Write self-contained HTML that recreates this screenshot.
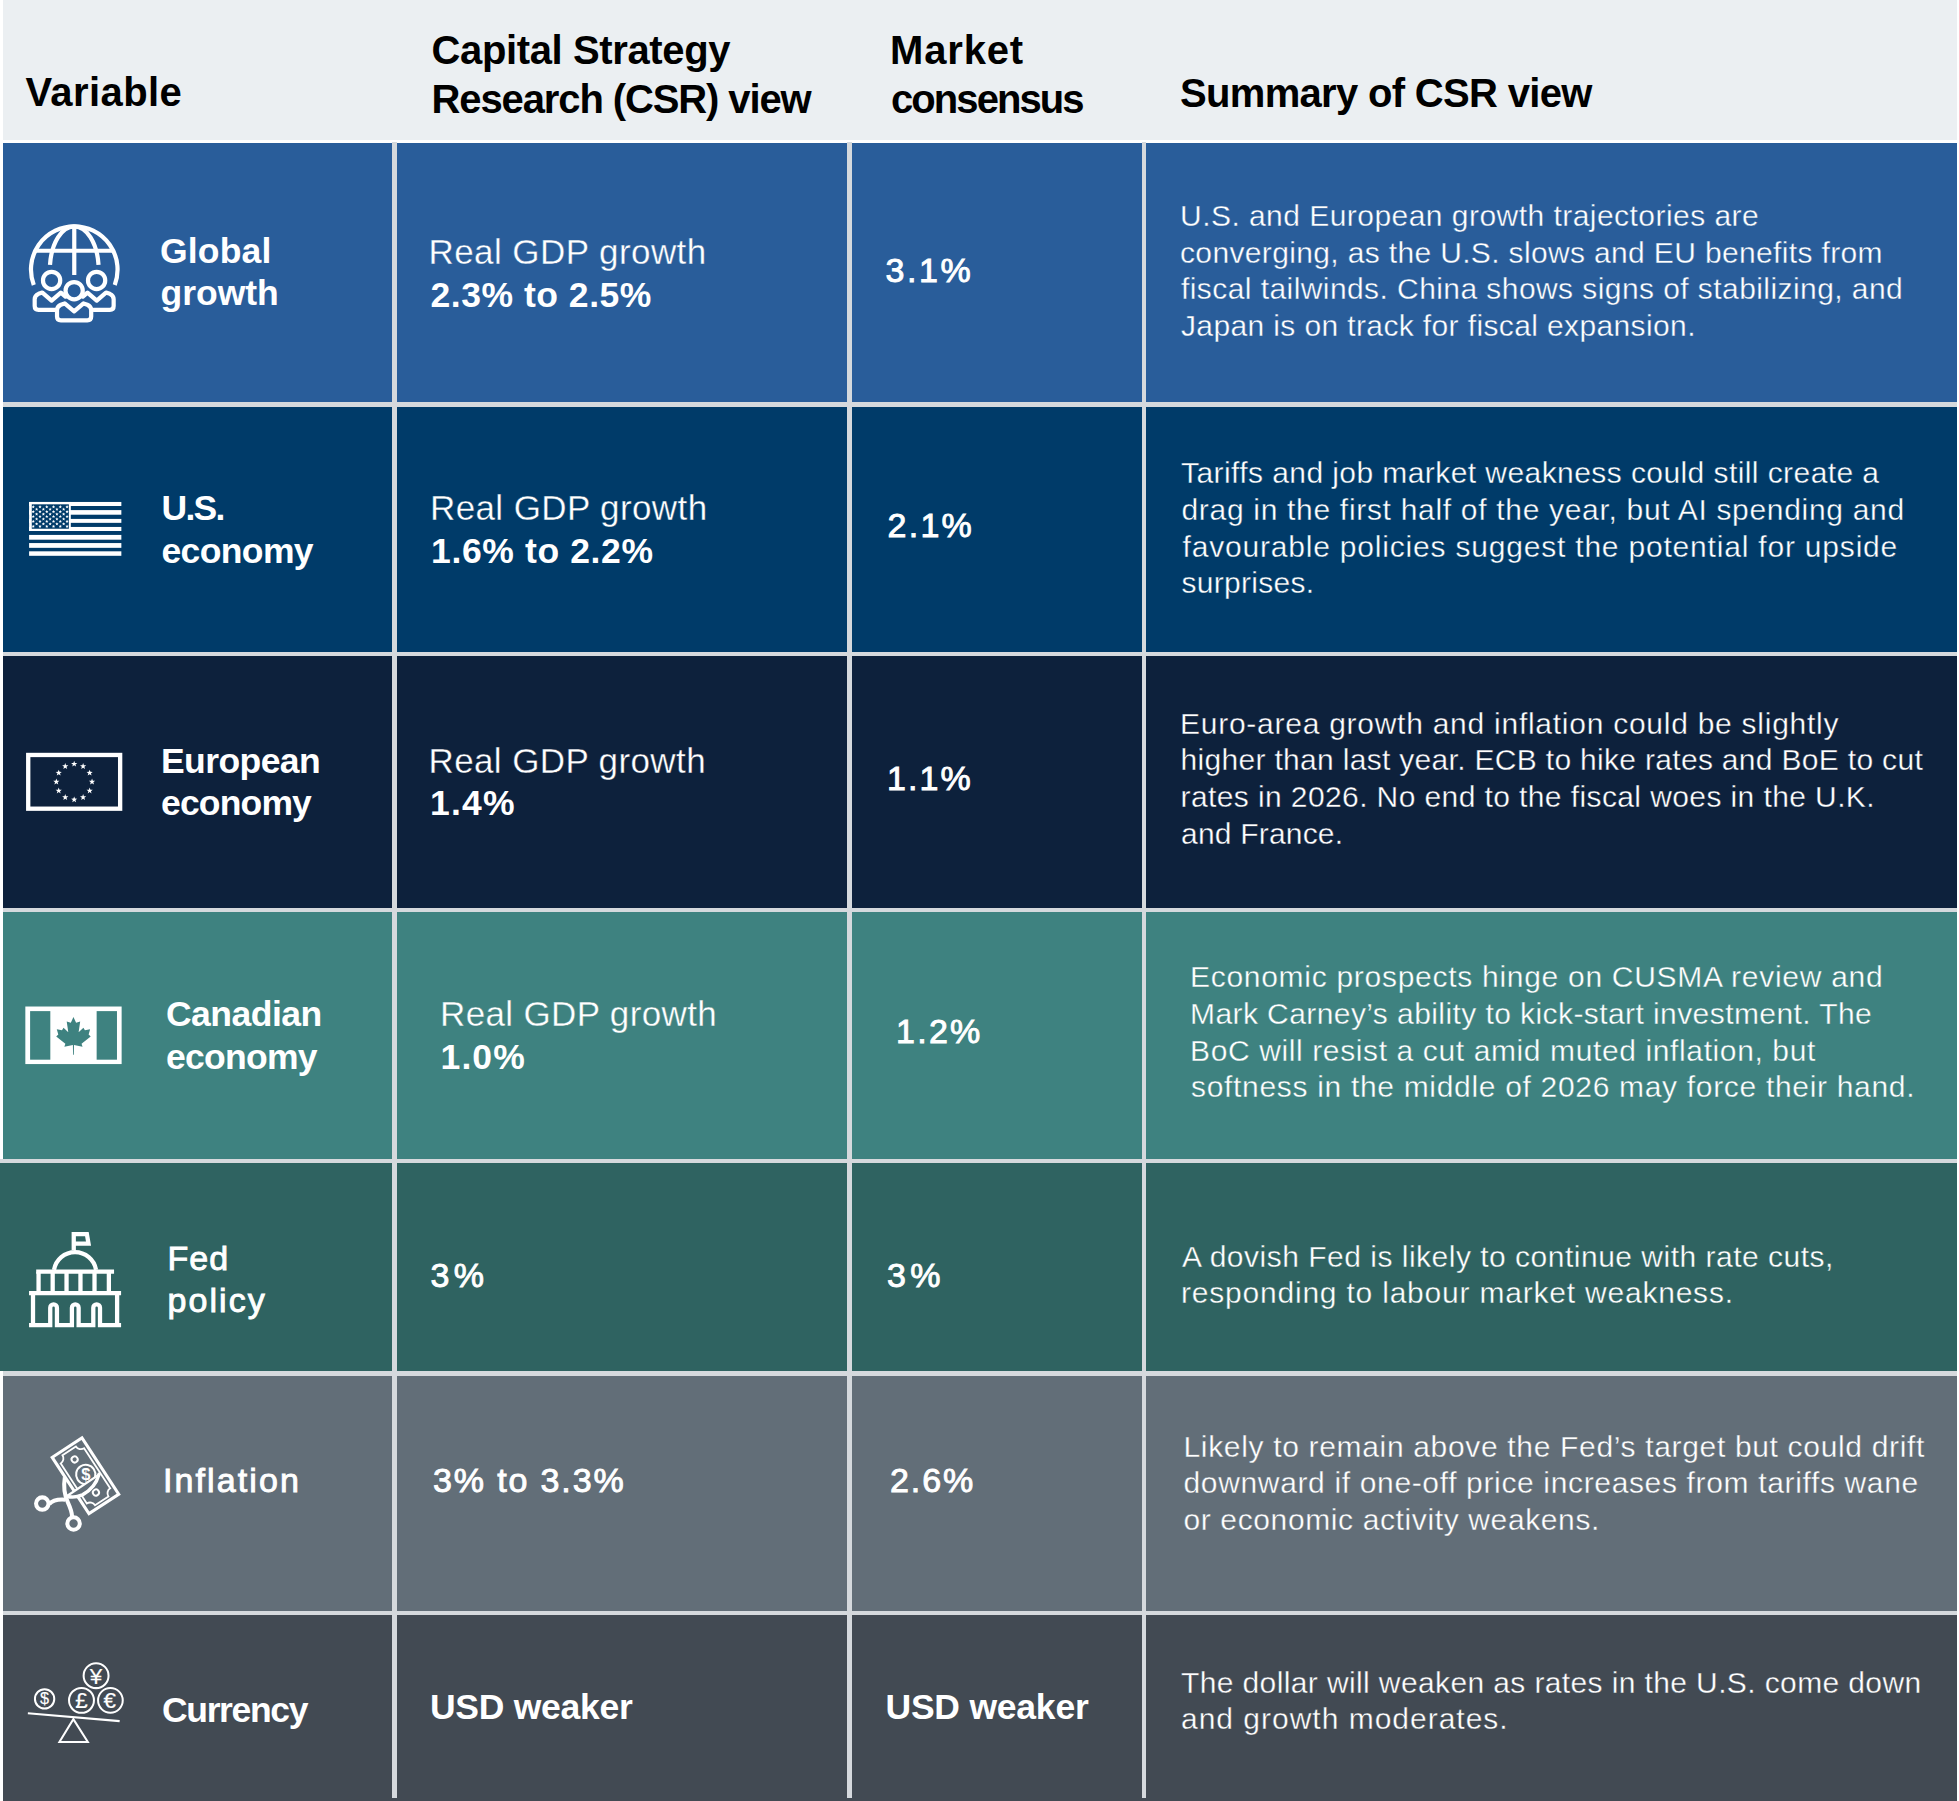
<!DOCTYPE html><html lang="en"><head><meta charset="utf-8"><title>CSR outlook table</title><style>

html,body{margin:0;padding:0;background:#fff;}
body{width:1959px;height:1801px;position:relative;overflow:hidden;font-family:"Liberation Sans",sans-serif;}
.bx{position:absolute;}
.t{position:absolute;white-space:pre;line-height:1;margin:0;padding:0;transform-origin:0 0;}
.h{color:#000;font-weight:700;}
.b{color:#fff;font-weight:700;}
.r{color:#fff;font-weight:400;}
.m{color:#fff;font-weight:400;-webkit-text-stroke:0.9px #fff;}
svg{position:absolute;overflow:visible;}

</style></head><body>
<div class="bx" style="left:2.5px;top:0;width:1954.5px;height:140px;background:#ebeff2"></div>
<div class="bx" style="left:2.5px;top:142.5px;width:1954.5px;height:259.5px;background:#295d9a"></div>
<div class="bx" style="left:2.5px;top:406.5px;width:1954.5px;height:245.0px;background:#003b69"></div>
<div class="bx" style="left:2.5px;top:656px;width:1954.5px;height:252px;background:#0d213c"></div>
<div class="bx" style="left:2.5px;top:912px;width:1954.5px;height:247px;background:#3e8280"></div>
<div class="bx" style="left:0px;top:1163px;width:1957px;height:208px;background:#2f6361"></div>
<div class="bx" style="left:2.5px;top:1375.5px;width:1954.5px;height:235.5px;background:#626e78"></div>
<div class="bx" style="left:2.5px;top:1615px;width:1954.5px;height:186px;background:#424a53"></div>
<div class="bx" style="left:2.5px;top:402px;width:1954.5px;height:4.5px;background:#d5d9dd"></div>
<div class="bx" style="left:2.5px;top:651.5px;width:1954.5px;height:4.5px;background:#d5d9dd"></div>
<div class="bx" style="left:2.5px;top:908px;width:1954.5px;height:4px;background:#d5d9dd"></div>
<div class="bx" style="left:0px;top:1159px;width:1957px;height:4px;background:#d5d9dd"></div>
<div class="bx" style="left:2.5px;top:1371px;width:1954.5px;height:4.5px;background:#d5d9dd"></div>
<div class="bx" style="left:2.5px;top:1611px;width:1954.5px;height:4px;background:#d5d9dd"></div>
<div class="bx" style="left:392.2px;top:141.5px;width:4.600000000000023px;height:1656.5px;background:#d5d9dd"></div>
<div class="bx" style="left:847px;top:141.5px;width:4.7000000000000455px;height:1656.5px;background:#d5d9dd"></div>
<div class="bx" style="left:1141.8px;top:141.5px;width:4.2999999999999545px;height:1656.5px;background:#d5d9dd"></div>
<svg width="1959" height="1801" viewBox="0 0 1959 1801" style="left:0;top:0">
<g transform="translate(20,215) scale(0.063841)" fill="none" stroke="#fff" stroke-width="66" stroke-linejoin="round">
<path d="M216 1095 A678 678 0 1 1 1484 1095"/>
<path d="M850 177 V940"/>
<path d="M240 560 H1460"/>
<path d="M850 177 A382 678 0 0 0 470 780"/>
<path d="M850 177 A382 678 0 0 1 1230 780"/>
<circle cx="495" cy="1025" r="135"/>
<circle cx="1200" cy="1025" r="135"/>
<circle cx="848" cy="1185" r="135"/>
<path stroke-linecap="round" d="M712 1278 L640 1215 L495 1340 L350 1215 L290 1235 Q230 1260 230 1320 V1425 Q230 1485 290 1485 H545"/>
<path stroke-linecap="round" d="M985 1278 L1057 1215 L1202 1340 L1347 1215 L1407 1235 Q1467 1260 1467 1320 V1425 Q1467 1485 1407 1485 H1152"/>
<path d="M700 1385 L848 1510 L995 1385 L1055 1405 Q1115 1430 1115 1490 V1590 Q1115 1650 1055 1650 H640 Q580 1650 580 1590 V1490 Q580 1430 640 1405 Z"/>
</g>
<g transform="translate(20,490) scale(0.056151)">
<rect x="162" y="213" width="1643" height="72" fill="#fff"/>
<rect x="162" y="358" width="1643" height="82" fill="#fff"/>
<rect x="162" y="515" width="1643" height="70" fill="#fff"/>
<rect x="162" y="658" width="1643" height="72" fill="#fff"/>
<rect x="162" y="800" width="1643" height="85" fill="#fff"/>
<rect x="162" y="945" width="1643" height="85" fill="#fff"/>
<rect x="162" y="1092" width="1643" height="80" fill="#fff"/>
<rect x="162" y="213" width="743" height="517" fill="#fff"/>
<rect x="210" y="255" width="660" height="435" fill="#003b69"/>
<g fill="#fff">
<polygon points="236.0,269.0 244.2,288.7 265.5,290.4 249.3,304.3 254.2,325.1 236.0,314.0 217.8,325.1 222.7,304.3 206.5,290.4 227.8,288.7"/>
<polygon points="356.4,269.0 364.6,288.7 385.9,290.4 369.7,304.3 374.6,325.1 356.4,314.0 338.2,325.1 343.1,304.3 326.9,290.4 348.2,288.7"/>
<polygon points="476.8,269.0 485.0,288.7 506.3,290.4 490.1,304.3 495.0,325.1 476.8,314.0 458.6,325.1 463.5,304.3 447.3,290.4 468.6,288.7"/>
<polygon points="597.2,269.0 605.4,288.7 626.7,290.4 610.5,304.3 615.4,325.1 597.2,314.0 579.0,325.1 583.9,304.3 567.7,290.4 589.0,288.7"/>
<polygon points="717.6,269.0 725.8,288.7 747.1,290.4 730.9,304.3 735.8,325.1 717.6,314.0 699.4,325.1 704.3,304.3 688.1,290.4 709.4,288.7"/>
<polygon points="838.0,269.0 846.2,288.7 867.5,290.4 851.3,304.3 856.2,325.1 838.0,314.0 819.8,325.1 824.7,304.3 808.5,290.4 829.8,288.7"/>
<polygon points="296.0,313.0 304.2,332.7 325.5,334.4 309.3,348.3 314.2,369.1 296.0,358.0 277.8,369.1 282.7,348.3 266.5,334.4 287.8,332.7"/>
<polygon points="416.4,313.0 424.6,332.7 445.9,334.4 429.7,348.3 434.6,369.1 416.4,358.0 398.2,369.1 403.1,348.3 386.9,334.4 408.2,332.7"/>
<polygon points="536.8,313.0 545.0,332.7 566.3,334.4 550.1,348.3 555.0,369.1 536.8,358.0 518.6,369.1 523.5,348.3 507.3,334.4 528.6,332.7"/>
<polygon points="657.2,313.0 665.4,332.7 686.7,334.4 670.5,348.3 675.4,369.1 657.2,358.0 639.0,369.1 643.9,348.3 627.7,334.4 649.0,332.7"/>
<polygon points="777.6,313.0 785.8,332.7 807.1,334.4 790.9,348.3 795.8,369.1 777.6,358.0 759.4,369.1 764.3,348.3 748.1,334.4 769.4,332.7"/>
<polygon points="236.0,356.0 244.2,375.7 265.5,377.4 249.3,391.3 254.2,412.1 236.0,401.0 217.8,412.1 222.7,391.3 206.5,377.4 227.8,375.7"/>
<polygon points="356.4,356.0 364.6,375.7 385.9,377.4 369.7,391.3 374.6,412.1 356.4,401.0 338.2,412.1 343.1,391.3 326.9,377.4 348.2,375.7"/>
<polygon points="476.8,356.0 485.0,375.7 506.3,377.4 490.1,391.3 495.0,412.1 476.8,401.0 458.6,412.1 463.5,391.3 447.3,377.4 468.6,375.7"/>
<polygon points="597.2,356.0 605.4,375.7 626.7,377.4 610.5,391.3 615.4,412.1 597.2,401.0 579.0,412.1 583.9,391.3 567.7,377.4 589.0,375.7"/>
<polygon points="717.6,356.0 725.8,375.7 747.1,377.4 730.9,391.3 735.8,412.1 717.6,401.0 699.4,412.1 704.3,391.3 688.1,377.4 709.4,375.7"/>
<polygon points="838.0,356.0 846.2,375.7 867.5,377.4 851.3,391.3 856.2,412.1 838.0,401.0 819.8,412.1 824.7,391.3 808.5,377.4 829.8,375.7"/>
<polygon points="296.0,399.0 304.2,418.7 325.5,420.4 309.3,434.3 314.2,455.1 296.0,444.0 277.8,455.1 282.7,434.3 266.5,420.4 287.8,418.7"/>
<polygon points="416.4,399.0 424.6,418.7 445.9,420.4 429.7,434.3 434.6,455.1 416.4,444.0 398.2,455.1 403.1,434.3 386.9,420.4 408.2,418.7"/>
<polygon points="536.8,399.0 545.0,418.7 566.3,420.4 550.1,434.3 555.0,455.1 536.8,444.0 518.6,455.1 523.5,434.3 507.3,420.4 528.6,418.7"/>
<polygon points="657.2,399.0 665.4,418.7 686.7,420.4 670.5,434.3 675.4,455.1 657.2,444.0 639.0,455.1 643.9,434.3 627.7,420.4 649.0,418.7"/>
<polygon points="777.6,399.0 785.8,418.7 807.1,420.4 790.9,434.3 795.8,455.1 777.6,444.0 759.4,455.1 764.3,434.3 748.1,420.4 769.4,418.7"/>
<polygon points="236.0,442.0 244.2,461.7 265.5,463.4 249.3,477.3 254.2,498.1 236.0,487.0 217.8,498.1 222.7,477.3 206.5,463.4 227.8,461.7"/>
<polygon points="356.4,442.0 364.6,461.7 385.9,463.4 369.7,477.3 374.6,498.1 356.4,487.0 338.2,498.1 343.1,477.3 326.9,463.4 348.2,461.7"/>
<polygon points="476.8,442.0 485.0,461.7 506.3,463.4 490.1,477.3 495.0,498.1 476.8,487.0 458.6,498.1 463.5,477.3 447.3,463.4 468.6,461.7"/>
<polygon points="597.2,442.0 605.4,461.7 626.7,463.4 610.5,477.3 615.4,498.1 597.2,487.0 579.0,498.1 583.9,477.3 567.7,463.4 589.0,461.7"/>
<polygon points="717.6,442.0 725.8,461.7 747.1,463.4 730.9,477.3 735.8,498.1 717.6,487.0 699.4,498.1 704.3,477.3 688.1,463.4 709.4,461.7"/>
<polygon points="838.0,442.0 846.2,461.7 867.5,463.4 851.3,477.3 856.2,498.1 838.0,487.0 819.8,498.1 824.7,477.3 808.5,463.4 829.8,461.7"/>
<polygon points="296.0,486.0 304.2,505.7 325.5,507.4 309.3,521.3 314.2,542.1 296.0,531.0 277.8,542.1 282.7,521.3 266.5,507.4 287.8,505.7"/>
<polygon points="416.4,486.0 424.6,505.7 445.9,507.4 429.7,521.3 434.6,542.1 416.4,531.0 398.2,542.1 403.1,521.3 386.9,507.4 408.2,505.7"/>
<polygon points="536.8,486.0 545.0,505.7 566.3,507.4 550.1,521.3 555.0,542.1 536.8,531.0 518.6,542.1 523.5,521.3 507.3,507.4 528.6,505.7"/>
<polygon points="657.2,486.0 665.4,505.7 686.7,507.4 670.5,521.3 675.4,542.1 657.2,531.0 639.0,542.1 643.9,521.3 627.7,507.4 649.0,505.7"/>
<polygon points="777.6,486.0 785.8,505.7 807.1,507.4 790.9,521.3 795.8,542.1 777.6,531.0 759.4,542.1 764.3,521.3 748.1,507.4 769.4,505.7"/>
<polygon points="236.0,529.0 244.2,548.7 265.5,550.4 249.3,564.3 254.2,585.1 236.0,574.0 217.8,585.1 222.7,564.3 206.5,550.4 227.8,548.7"/>
<polygon points="356.4,529.0 364.6,548.7 385.9,550.4 369.7,564.3 374.6,585.1 356.4,574.0 338.2,585.1 343.1,564.3 326.9,550.4 348.2,548.7"/>
<polygon points="476.8,529.0 485.0,548.7 506.3,550.4 490.1,564.3 495.0,585.1 476.8,574.0 458.6,585.1 463.5,564.3 447.3,550.4 468.6,548.7"/>
<polygon points="597.2,529.0 605.4,548.7 626.7,550.4 610.5,564.3 615.4,585.1 597.2,574.0 579.0,585.1 583.9,564.3 567.7,550.4 589.0,548.7"/>
<polygon points="717.6,529.0 725.8,548.7 747.1,550.4 730.9,564.3 735.8,585.1 717.6,574.0 699.4,585.1 704.3,564.3 688.1,550.4 709.4,548.7"/>
<polygon points="838.0,529.0 846.2,548.7 867.5,550.4 851.3,564.3 856.2,585.1 838.0,574.0 819.8,585.1 824.7,564.3 808.5,550.4 829.8,548.7"/>
<polygon points="296.0,573.0 304.2,592.7 325.5,594.4 309.3,608.3 314.2,629.1 296.0,618.0 277.8,629.1 282.7,608.3 266.5,594.4 287.8,592.7"/>
<polygon points="416.4,573.0 424.6,592.7 445.9,594.4 429.7,608.3 434.6,629.1 416.4,618.0 398.2,629.1 403.1,608.3 386.9,594.4 408.2,592.7"/>
<polygon points="536.8,573.0 545.0,592.7 566.3,594.4 550.1,608.3 555.0,629.1 536.8,618.0 518.6,629.1 523.5,608.3 507.3,594.4 528.6,592.7"/>
<polygon points="657.2,573.0 665.4,592.7 686.7,594.4 670.5,608.3 675.4,629.1 657.2,618.0 639.0,629.1 643.9,608.3 627.7,594.4 649.0,592.7"/>
<polygon points="777.6,573.0 785.8,592.7 807.1,594.4 790.9,608.3 795.8,629.1 777.6,618.0 759.4,629.1 764.3,608.3 748.1,594.4 769.4,592.7"/>
<polygon points="236.0,617.0 244.2,636.7 265.5,638.4 249.3,652.3 254.2,673.1 236.0,662.0 217.8,673.1 222.7,652.3 206.5,638.4 227.8,636.7"/>
<polygon points="356.4,617.0 364.6,636.7 385.9,638.4 369.7,652.3 374.6,673.1 356.4,662.0 338.2,673.1 343.1,652.3 326.9,638.4 348.2,636.7"/>
<polygon points="476.8,617.0 485.0,636.7 506.3,638.4 490.1,652.3 495.0,673.1 476.8,662.0 458.6,673.1 463.5,652.3 447.3,638.4 468.6,636.7"/>
<polygon points="597.2,617.0 605.4,636.7 626.7,638.4 610.5,652.3 615.4,673.1 597.2,662.0 579.0,673.1 583.9,652.3 567.7,638.4 589.0,636.7"/>
<polygon points="717.6,617.0 725.8,636.7 747.1,638.4 730.9,652.3 735.8,673.1 717.6,662.0 699.4,673.1 704.3,652.3 688.1,638.4 709.4,636.7"/>
<polygon points="838.0,617.0 846.2,636.7 867.5,638.4 851.3,652.3 856.2,673.1 838.0,662.0 819.8,673.1 824.7,652.3 808.5,638.4 829.8,636.7"/>
</g></g>
<g transform="translate(20,740) scale(0.056151)">
<rect x="146.5" y="266.5" width="1637" height="957" fill="none" stroke="#fff" stroke-width="77"/>
<g fill="#fff">
<polygon points="965.0,369.0 979.1,407.6 1020.2,409.1 987.8,434.4 999.1,473.9 965.0,451.0 930.9,473.9 942.2,434.4 909.8,409.1 950.9,407.6"/>
<polygon points="1124.0,411.6 1138.1,450.2 1179.2,451.7 1146.8,477.0 1158.1,516.5 1124.0,493.6 1089.9,516.5 1101.2,477.0 1068.8,451.7 1109.9,450.2"/>
<polygon points="1240.4,528.0 1254.5,566.6 1295.6,568.1 1263.2,593.4 1274.5,632.9 1240.4,610.0 1206.3,632.9 1217.6,593.4 1185.2,568.1 1226.3,566.6"/>
<polygon points="1283.0,687.0 1297.1,725.6 1338.2,727.1 1305.8,752.4 1317.1,791.9 1283.0,769.0 1248.9,791.9 1260.2,752.4 1227.8,727.1 1268.9,725.6"/>
<polygon points="1240.4,846.0 1254.5,884.6 1295.6,886.1 1263.2,911.4 1274.5,950.9 1240.4,928.0 1206.3,950.9 1217.6,911.4 1185.2,886.1 1226.3,884.6"/>
<polygon points="1124.0,962.4 1138.1,1001.0 1179.2,1002.5 1146.8,1027.8 1158.1,1067.3 1124.0,1044.4 1089.9,1067.3 1101.2,1027.8 1068.8,1002.5 1109.9,1001.0"/>
<polygon points="965.0,1005.0 979.1,1043.6 1020.2,1045.1 987.8,1070.4 999.1,1109.9 965.0,1087.0 930.9,1109.9 942.2,1070.4 909.8,1045.1 950.9,1043.6"/>
<polygon points="806.0,962.4 820.1,1001.0 861.2,1002.5 828.8,1027.8 840.1,1067.3 806.0,1044.4 771.9,1067.3 783.2,1027.8 750.8,1002.5 791.9,1001.0"/>
<polygon points="689.6,846.0 703.7,884.6 744.8,886.1 712.4,911.4 723.7,950.9 689.6,928.0 655.5,950.9 666.8,911.4 634.4,886.1 675.5,884.6"/>
<polygon points="647.0,687.0 661.1,725.6 702.2,727.1 669.8,752.4 681.1,791.9 647.0,769.0 612.9,791.9 624.2,752.4 591.8,727.1 632.9,725.6"/>
<polygon points="689.6,528.0 703.7,566.6 744.8,568.1 712.4,593.4 723.7,632.9 689.6,610.0 655.5,632.9 666.8,593.4 634.4,568.1 675.5,566.6"/>
<polygon points="806.0,411.6 820.1,450.2 861.2,451.7 828.8,477.0 840.1,516.5 806.0,493.6 771.9,516.5 783.2,477.0 750.8,451.7 791.9,450.2"/>
</g></g>
<g transform="translate(20,995) scale(0.056151)">
<rect x="95" y="205" width="1715" height="1025" fill="#fff"/>
<rect x="180" y="287" width="360" height="865" fill="#3e8280"/>
<rect x="1365" y="287" width="362" height="865" fill="#3e8280"/>
<polygon points="952,392 905,492 832,472 860,662 775,585 748,628 655,608 682,705 645,740 808,868 790,922 942,892 945,1062 959,1062 962,892 1114,922 1096,868 1259,740 1222,705 1249,608 1156,628 1129,585 1044,662 1072,472 999,492 952,392" fill="#3e8280"/>
</g>
<g transform="translate(20,1225) scale(0.061076)" fill="none" stroke="#fff" stroke-width="70">
<path d="M880 410 V150 H1095 L1122 305 H880"/>
<path d="M557 735 A349 349 0 0 1 1245 735"/>
<path d="M265 765 H1540"/>
<path d="M304 765 V1115 M535 765 V1115 M762 765 V1115 M990 765 V1115 M1220 765 V1115 M1455 765 V1115"/>
<path d="M148 1115 H1655"/>
<path d="M213 1115 V1640 M1590 1115 V1640"/>
<path d="M148 1640 H495 V1355 A55 55 0 0 1 605 1355 V1640 H850 V1355 A55 55 0 0 1 960 1355 V1640 H1200 V1355 A55 55 0 0 1 1310 1355 V1640 H1655"/>
</g>
<g transform="translate(25,1430) scale(0.061084)" fill="none" stroke="#fff">
<g transform="translate(940,95) rotate(56.9)">
<rect x="25" y="25" width="1102" height="582" stroke-width="50"/>
<path d="M185 88 H967 A97 97 0 0 0 1064 185 V447 A97 97 0 0 0 967 544 H185 A97 97 0 0 0 88 447 V185 A97 97 0 0 0 185 88 Z" stroke-width="30"/>
<circle cx="254" cy="318" r="50" stroke-width="32"/>
<circle cx="899" cy="322" r="50" stroke-width="32"/>
<circle cx="560" cy="300" r="158" stroke-width="34"/>
<text x="560" y="397" font-family="Liberation Sans, sans-serif" font-weight="700" font-size="270" text-anchor="middle" fill="#fff" stroke="none" transform="rotate(-56.9 560 300)">$</text>
</g>
<path d="M700 1072 L1205 735 Q1150 950 940 1060 Q800 1120 700 1072 Z" fill="#626e78" stroke-width="36" stroke-linejoin="round"/>
<path d="M1212 725 Q1150 950 940 1062 Q800 1122 690 1085" stroke-width="56" stroke-linecap="round"/>
<path d="M652 775 C632 900 640 1050 700 1180 C750 1290 768 1350 770 1410" stroke-width="66"/>
<path d="M395 1215 Q470 1125 660 1140" stroke-width="66"/>
<circle cx="283" cy="1205" r="102" stroke-width="66"/>
<circle cx="795" cy="1530" r="102" stroke-width="66"/>
</g>
<g transform="translate(20,1655) scale(0.056151)" fill="none" stroke="#fff" stroke-width="36">
<circle cx="438" cy="782" r="172"/>
<circle cx="1355" cy="368" r="222"/>
<circle cx="1095" cy="808" r="222"/>
<circle cx="1610" cy="808" r="220"/>
<path d="M140 1038 L1775 1178" stroke-width="38"/>
<path d="M950 1142 L1208 1548 H702 Z"/>
<text x="438" y="880" font-size="290" font-family="Liberation Sans, sans-serif" font-weight="400" text-anchor="middle" fill="#fff" stroke="#fff" stroke-width="3">$</text>
<text x="1355" y="515" font-size="400" font-family="Liberation Sans, sans-serif" font-weight="400" text-anchor="middle" fill="#fff" stroke="#fff" stroke-width="3">¥</text>
<text x="1095" y="950" font-size="400" font-family="Liberation Sans, sans-serif" font-weight="400" text-anchor="middle" fill="#fff" stroke="#fff" stroke-width="3">£</text>
<text x="1600" y="950" font-size="400" font-family="Liberation Sans, sans-serif" font-weight="400" text-anchor="middle" fill="#fff" stroke="#fff" stroke-width="3">€</text>
</g>
</svg>
<div class="t h" style="left:25.50px;top:72.14px;font-size:40px;letter-spacing:0.400px;">Variable</div>
<div class="t h" style="left:431.50px;top:29.64px;font-size:40px;letter-spacing:-0.373px;">Capital Strategy</div>
<div class="t h" style="left:431.50px;top:78.74px;font-size:40px;letter-spacing:-1.111px;">Research (CSR) view</div>
<div class="t h" style="left:890.00px;top:29.64px;font-size:40px;letter-spacing:0.840px;">Market</div>
<div class="t h" style="left:891.00px;top:78.74px;font-size:40px;letter-spacing:-1.925px;">consensus</div>
<div class="t h" style="left:1180.00px;top:72.64px;font-size:40px;letter-spacing:-0.678px;">Summary of CSR view</div>
<div class="t b" style="left:160.00px;top:234.45px;font-size:35.5px;letter-spacing:0.160px;">Global</div>
<div class="t b" style="left:160.50px;top:276.35px;font-size:35.5px;letter-spacing:-0.000px;">growth</div>
<div class="t r" style="left:428.50px;top:233.67px;font-size:35px;letter-spacing:0.429px;-webkit-text-stroke:0.35px #295d9a;">Real GDP growth</div>
<div class="t b" style="left:430.50px;top:278.15px;font-size:35.5px;letter-spacing:0.527px;">2.3% to 2.5%</div>
<div class="t m" style="left:885.50px;top:253.02px;font-size:34px;letter-spacing:2.600px;">3.1%</div>
<div class="t r" style="left:1180.00px;top:200.60px;font-size:30px;letter-spacing:0.460px;-webkit-text-stroke:0.35px #295d9a;">U.S. and European growth trajectories are</div>
<div class="t r" style="left:1180.00px;top:238.41px;font-size:30px;letter-spacing:0.351px;-webkit-text-stroke:0.35px #295d9a;">converging, as the U.S. slows and EU benefits from</div>
<div class="t r" style="left:1181.00px;top:274.11px;font-size:30px;letter-spacing:0.426px;-webkit-text-stroke:0.35px #295d9a;">fiscal tailwinds. China shows signs of stabilizing, and</div>
<div class="t r" style="left:1181.00px;top:310.91px;font-size:30px;letter-spacing:0.374px;-webkit-text-stroke:0.35px #295d9a;">Japan is on track for fiscal expansion.</div>
<div class="t b" style="left:161.50px;top:490.75px;font-size:35.5px;letter-spacing:-1.733px;">U.S.</div>
<div class="t b" style="left:161.50px;top:533.65px;font-size:35.5px;letter-spacing:-0.633px;">economy</div>
<div class="t r" style="left:430.00px;top:490.17px;font-size:35px;letter-spacing:0.386px;-webkit-text-stroke:0.35px #003b69;">Real GDP growth</div>
<div class="t b" style="left:431.00px;top:533.65px;font-size:35.5px;letter-spacing:0.636px;">1.6% to 2.2%</div>
<div class="t m" style="left:887.50px;top:508.42px;font-size:34px;letter-spacing:2.267px;">2.1%</div>
<div class="t r" style="left:1181.00px;top:457.71px;font-size:30px;letter-spacing:0.424px;-webkit-text-stroke:0.35px #003b69;">Tariffs and job market weakness could still create a</div>
<div class="t r" style="left:1181.50px;top:495.40px;font-size:30px;letter-spacing:0.689px;-webkit-text-stroke:0.35px #003b69;">drag in the first half of the year, but AI spending and</div>
<div class="t r" style="left:1182.50px;top:532.21px;font-size:30px;letter-spacing:0.804px;-webkit-text-stroke:0.35px #003b69;">favourable policies suggest the potential for upside</div>
<div class="t r" style="left:1181.50px;top:567.90px;font-size:30px;letter-spacing:0.289px;-webkit-text-stroke:0.35px #003b69;">surprises.</div>
<div class="t b" style="left:161.00px;top:744.45px;font-size:35.5px;letter-spacing:-0.571px;">European</div>
<div class="t b" style="left:161.00px;top:786.35px;font-size:35.5px;letter-spacing:-0.833px;">economy</div>
<div class="t r" style="left:428.50px;top:742.87px;font-size:35px;letter-spacing:0.386px;-webkit-text-stroke:0.35px #0d213c;">Real GDP growth</div>
<div class="t b" style="left:430.00px;top:786.35px;font-size:35.5px;letter-spacing:1.200px;">1.4%</div>
<div class="t m" style="left:887.00px;top:761.22px;font-size:34px;letter-spacing:2.067px;">1.1%</div>
<div class="t r" style="left:1180.00px;top:709.31px;font-size:30px;letter-spacing:0.740px;-webkit-text-stroke:0.35px #0d213c;">Euro-area growth and inflation could be slightly</div>
<div class="t r" style="left:1180.50px;top:745.00px;font-size:30px;letter-spacing:0.311px;-webkit-text-stroke:0.35px #0d213c;">higher than last year. ECB to hike rates and BoE to cut</div>
<div class="t r" style="left:1180.50px;top:781.81px;font-size:30px;letter-spacing:0.400px;-webkit-text-stroke:0.35px #0d213c;">rates in 2026. No end to the fiscal woes in the U.K.</div>
<div class="t r" style="left:1181.00px;top:818.61px;font-size:30px;letter-spacing:0.200px;-webkit-text-stroke:0.35px #0d213c;">and France.</div>
<div class="t b" style="left:166.00px;top:997.25px;font-size:35.5px;letter-spacing:-0.514px;">Canadian</div>
<div class="t b" style="left:166.00px;top:1039.95px;font-size:35.5px;letter-spacing:-0.733px;">economy</div>
<div class="t r" style="left:440.00px;top:996.47px;font-size:35px;letter-spacing:0.357px;-webkit-text-stroke:0.35px #3e8280;">Real GDP growth</div>
<div class="t b" style="left:440.50px;top:1040.05px;font-size:35.5px;letter-spacing:1.133px;">1.0%</div>
<div class="t m" style="left:896.00px;top:1013.62px;font-size:34px;letter-spacing:2.267px;">1.2%</div>
<div class="t r" style="left:1190.00px;top:961.71px;font-size:30px;letter-spacing:0.712px;-webkit-text-stroke:0.35px #3e8280;">Economic prospects hinge on CUSMA review and</div>
<div class="t r" style="left:1190.00px;top:999.40px;font-size:30px;letter-spacing:0.420px;-webkit-text-stroke:0.35px #3e8280;">Mark Carney’s ability to kick-start investment. The</div>
<div class="t r" style="left:1190.00px;top:1036.20px;font-size:30px;letter-spacing:0.617px;-webkit-text-stroke:0.35px #3e8280;">BoC will resist a cut amid muted inflation, but</div>
<div class="t r" style="left:1191.00px;top:1071.90px;font-size:30px;letter-spacing:0.682px;-webkit-text-stroke:0.35px #3e8280;">softness in the middle of 2026 may force their hand.</div>
<div class="t m" style="left:167.50px;top:1240.82px;font-size:34px;letter-spacing:1.000px;">Fed</div>
<div class="t m" style="left:167.50px;top:1283.32px;font-size:34px;letter-spacing:2.080px;">policy</div>
<div class="t m" style="left:430.50px;top:1257.72px;font-size:34px;letter-spacing:4.400px;">3%</div>
<div class="t m" style="left:887.00px;top:1257.72px;font-size:34px;letter-spacing:4.400px;">3%</div>
<div class="t r" style="left:1182.00px;top:1242.31px;font-size:30px;letter-spacing:0.498px;-webkit-text-stroke:0.35px #2f6361;">A dovish Fed is likely to continue with rate cuts,</div>
<div class="t r" style="left:1181.00px;top:1278.01px;font-size:30px;letter-spacing:0.789px;-webkit-text-stroke:0.35px #2f6361;">responding to labour market weakness.</div>
<div class="t m" style="left:163.00px;top:1463.22px;font-size:34px;letter-spacing:2.100px;">Inflation</div>
<div class="t m" style="left:433.00px;top:1463.22px;font-size:34px;letter-spacing:1.867px;">3% to 3.3%</div>
<div class="t m" style="left:890.00px;top:1463.12px;font-size:34px;letter-spacing:1.933px;">2.6%</div>
<div class="t r" style="left:1183.50px;top:1432.40px;font-size:30px;letter-spacing:0.667px;-webkit-text-stroke:0.35px #626e78;">Likely to remain above the Fed’s target but could drift</div>
<div class="t r" style="left:1183.50px;top:1468.11px;font-size:30px;letter-spacing:0.650px;-webkit-text-stroke:0.35px #626e78;">downward if one-off price increases from tariffs wane</div>
<div class="t r" style="left:1183.50px;top:1504.90px;font-size:30px;letter-spacing:0.621px;-webkit-text-stroke:0.35px #626e78;">or economic activity weakens.</div>
<div class="t b" style="left:162.00px;top:1693.25px;font-size:35.5px;letter-spacing:-1.343px;">Currency</div>
<div class="t b" style="left:430.00px;top:1690.15px;font-size:35.5px;letter-spacing:-0.267px;">USD weaker</div>
<div class="t b" style="left:885.50px;top:1690.15px;font-size:35.5px;letter-spacing:-0.222px;">USD weaker</div>
<div class="t r" style="left:1181.00px;top:1668.40px;font-size:30px;letter-spacing:0.381px;-webkit-text-stroke:0.35px #424a53;">The dollar will weaken as rates in the U.S. come down</div>
<div class="t r" style="left:1181.00px;top:1704.11px;font-size:30px;letter-spacing:0.990px;-webkit-text-stroke:0.35px #424a53;">and growth moderates.</div>
</body></html>
